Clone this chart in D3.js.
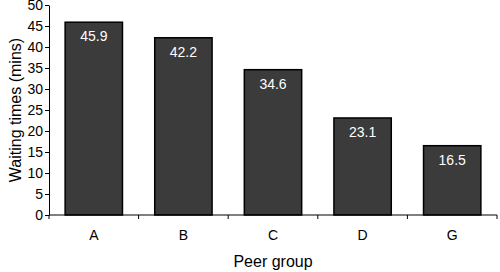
<!DOCTYPE html>
<html>
<head>
<meta charset="utf-8">
<script src="https://cdn.jsdelivr.net/npm/d3@7"></script>
<style>
  body { margin: 0; background: #fff; }
  text { font-family: "Liberation Sans", Arial, sans-serif; }
</style>
</head>
<body>
<div id="chart"></div>
<script>
var groups = ["A", "B", "C", "D", "G"];
var waiting = [45.9, 42.2, 34.6, 23.1, 16.5];
var yTicks = [0, 5, 10, 15, 20, 25, 30, 35, 40, 45, 50];

var W = 500, H = 272;
var mLeft = 49, mRight = 497, mTop = 5, mBottom = 215;

var svg = d3.select("#chart").append("svg")
    .attr("width", W)
    .attr("height", H);

var x = d3.scaleBand()
    .domain(groups)
    .range([mLeft, mRight])
    .paddingInner(0.36)
    .paddingOuter(0.18);

var y = d3.scaleLinear()
    .domain([0, 50])
    .range([mBottom, mTop]);

// bars
svg.append("g")
    .selectAll("rect")
    .data(waiting)
    .enter()
    .append("rect")
    .attr("x", function(d, i) { return x(groups[i]); })
    .attr("y", function(d) { return y(d); })
    .attr("width", x.bandwidth())
    .attr("height", function(d) { return y(0) - y(d); })
    .attr("fill", "#3b3b3b")
    .attr("stroke", "#000")
    .attr("stroke-width", 1.5);

// value labels
svg.append("g")
    .selectAll("text")
    .data(waiting)
    .enter()
    .append("text")
    .attr("x", function(d, i) { return x(groups[i]) + x.bandwidth() / 2; })
    .attr("y", function(d) { return y(d) + 19; })
    .attr("text-anchor", "middle")
    .attr("fill", "#fff")
    .style("font-size", "14px")
    .text(function(d) { return d.toFixed(1); });

// y axis
var yAxis = svg.append("g")
    .attr("transform", "translate(" + mLeft + ",0)")
    .call(d3.axisLeft(y).tickValues(yTicks).tickSize(4).tickSizeOuter(0).tickPadding(2));
yAxis.selectAll("text").style("font-size", "14px").attr("fill", "#000");
yAxis.selectAll("line, path").attr("stroke", "#000");

// x axis: ticks at band boundaries
var xAxis = svg.append("g").attr("transform", "translate(0," + mBottom + ")");
xAxis.append("line")
    .attr("x1", mLeft).attr("x2", mRight)
    .attr("stroke", "#000");
var step = x.step();
var bounds = d3.range(groups.length + 1).map(function(i) { return mLeft + i * step; });
xAxis.selectAll(".tk")
    .data(bounds)
    .enter()
    .append("line")
    .attr("x1", function(d) { return d; })
    .attr("x2", function(d) { return d; })
    .attr("y1", 0).attr("y2", 4)
    .attr("stroke", "#000");
xAxis.selectAll(".lbl")
    .data(groups)
    .enter()
    .append("text")
    .attr("x", function(d) { return x(d) + x.bandwidth() / 2; })
    .attr("y", 25)
    .attr("text-anchor", "middle")
    .style("font-size", "14px")
    .text(function(d) { return d; });

// axis titles
svg.append("text")
    .attr("x", (mLeft + mRight) / 2)
    .attr("y", 267)
    .attr("text-anchor", "middle")
    .style("font-size", "16px")
    .text("Peer group");

svg.append("text")
    .attr("transform", "translate(21," + ((mTop + mBottom) / 2) + ") rotate(-90)")
    .attr("text-anchor", "middle")
    .style("font-size", "16px")
    .text("Waiting times (mins)");
</script>
</body>
</html>
